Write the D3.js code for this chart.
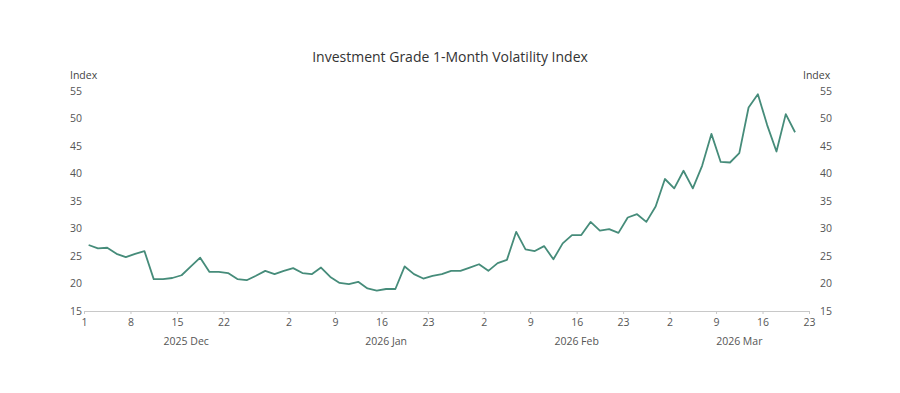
<!DOCTYPE html>
<html>
<head>
<meta charset="utf-8">
<script src="https://cdn.jsdelivr.net/npm/d3@7"></script>
<style>
  body { margin: 0; background: #fff; }
  svg text { font-family: "Open Sans", "Noto Sans", sans-serif; fill: #444; }
  .axis path, .axis line { stroke: #c8c8c8; }
  .axis text { font-size: 10.5px; fill: #555; }
</style>
</head>
<body>
<div id="chart"></div>
<script>
// trading days, Dec 1 2025 .. Mar 20 2026 (weekends and these holidays skipped)
const startDay = "2025-12-01";
const endDay = "2026-03-20";
const holidays = ["2025-12-25", "2026-01-01"];

// index values, one per trading day (last day of range has no value yet)
const values = [
  27.0, 26.4, 26.5, 25.4, 24.8, 25.4, 25.9, 20.8, 20.8, 21.0,
  21.5, 23.1, 24.7, 22.1, 22.1, 21.9, 20.8, 20.6, 21.4, 22.3,
  21.7, 22.3, 22.8, 21.9, 21.7, 22.9, 21.2, 20.1, 19.9, 20.3,
  19.1, 18.7, 19.0, 19.0, 23.1, 21.7, 20.9, 21.4, 21.7, 22.3,
  22.3, 22.9, 23.5, 22.3, 23.7, 24.3, 29.4, 26.2, 25.9, 26.8,
  24.4, 27.3, 28.8, 28.8, 31.2, 29.6, 29.9, 29.2, 32.0, 32.6,
  31.2, 34.0, 39.0, 37.3, 40.5, 37.3, 41.4, 47.2, 42.1, 42.0,
  43.7, 52.0, 54.4, 48.8, 44.0, 50.8, 47.5
];

const tickDates = [
  "2025-12-01", "2025-12-08", "2025-12-15", "2025-12-22",
  "2026-01-02", "2026-01-09", "2026-01-16", "2026-01-23",
  "2026-02-02", "2026-02-09", "2026-02-16", "2026-02-23",
  "2026-03-02", "2026-03-09", "2026-03-16", "2026-03-23"
];
const yTicks = [15, 20, 25, 30, 35, 40, 45, 50, 55];

const title = "Investment Grade 1-Month Volatility Index";

const width = 900, height = 393;
const margin = { top: 91, right: 91, bottom: 82, left: 84 };

const parse = d3.utcParse("%Y-%m-%d");
const fmt = d3.utcFormat("%Y-%m-%d");

const days = d3.utcDay.range(parse(startDay), d3.utcDay.offset(parse(endDay), 1))
  .filter(d => d.getUTCDay() !== 0 && d.getUTCDay() !== 6 && !holidays.includes(fmt(d)));

const dayIndex = new Map(days.map((d, i) => [fmt(d), i]));
const idxOf = s => dayIndex.has(s) ? dayIndex.get(s) : days.length;

const svg = d3.select("#chart").append("svg")
  .attr("width", width)
  .attr("height", height);

const x = d3.scaleLinear()
  .domain([0, days.length])
  .range([margin.left, width - margin.right]);

const y = d3.scaleLinear()
  .domain([15, 55])
  .range([height - margin.bottom, margin.top]);

// title
svg.append("text")
  .attr("x", width / 2)
  .attr("y", 62)
  .attr("text-anchor", "middle")
  .style("font-size", "14px")
  .style("fill", "#333")
  .text(title);

// axis titles
svg.append("text")
  .attr("x", 70).attr("y", 79)
  .style("font-size", "10.5px")
  .text("Index");
svg.append("text")
  .attr("x", 803).attr("y", 79)
  .style("font-size", "10.5px")
  .text("Index");

// y labels left and right (no axis line)
const yl = svg.append("g").attr("class", "axis");
yl.selectAll(".yl").data(yTicks).join("text")
  .attr("x", 70)
  .attr("y", d => y(d))
  .attr("dy", "0.35em")
  .text(d => d);
yl.selectAll(".yr").data(yTicks).join("text")
  .attr("x", 820)
  .attr("y", d => y(d))
  .attr("dy", "0.35em")
  .text(d => d);

// x axis
const xAxis = d3.axisBottom(x)
  .tickValues(tickDates.map(idxOf))
  .tickSize(3)
  .tickSizeOuter(3)
  .tickPadding(5)
  .tickFormat((d, i) => +tickDates[i].slice(8));

svg.append("g")
  .attr("class", "axis")
  .attr("transform", `translate(0,${height - margin.bottom})`)
  .call(xAxis);

// month labels centred on each month's span
const months = d3.groups(days.map((d, i) => ({ d, i })), o => d3.utcFormat("%Y %b")(o.d));
svg.append("g").attr("class", "axis")
  .selectAll("text").data(months).join("text")
  .attr("x", m => x((m[1][0].i + m[1][m[1].length - 1].i + 1) / 2))
  .attr("y", 345)
  .attr("text-anchor", "middle")
  .text(m => m[0]);

// the line
const line = d3.line()
  .x((d, i) => x(i + 0.5))
  .y(d => y(d));

svg.append("path")
  .datum(values)
  .attr("fill", "none")
  .attr("stroke", "#468c7a")
  .attr("stroke-width", 1.8)
  .attr("stroke-linejoin", "round")
  .attr("d", line);
</script>
</body>
</html>
